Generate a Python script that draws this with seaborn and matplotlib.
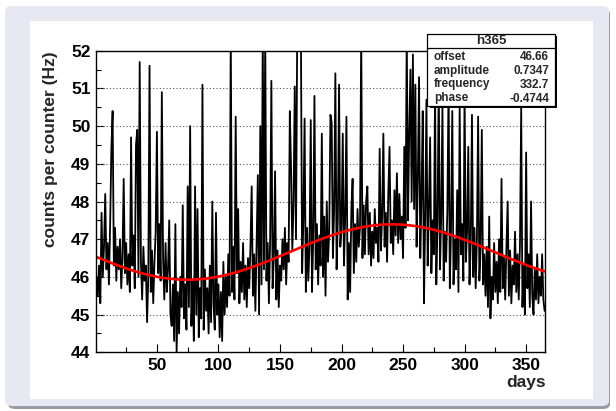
import numpy as np
import pandas as pd
import seaborn as sns
from matplotlib import pyplot as plt
from matplotlib.patches import FancyBboxPatch, Rectangle
from matplotlib.ticker import MultipleLocator

# daily rate (days 1..365); 52.5 = off the top of the frame
rate = [
    46.0, 45.5, 46.3, 45.3, 47.7, 46.0, 46.8, 48.2, 46.2, 46.9,
    45.8, 47.4, 49.4, 50.4, 46.3, 47.3, 45.9, 46.8, 46.2, 47.0,
    45.7, 46.5, 48.6, 46.1, 46.9, 45.8, 46.6, 45.6, 49.7, 46.3,
    47.1, 45.7, 49.5, 49.9, 46.0, 51.7, 46.4, 45.4, 46.8, 45.9,
    46.3, 44.8, 46.0, 51.6, 45.6, 46.7, 45.3, 46.4, 47.2, 49.85,
    46.1, 47.4, 45.9, 50.9, 46.5, 45.4, 46.9, 45.6, 46.2, 47.5,
    45.0, 44.7, 45.8, 44.3, 47.4, 44.0, 45.6, 44.5, 46.0, 45.2,
    47.9, 44.9, 45.8, 44.6, 48.4, 45.2, 50.0, 44.7, 45.9, 44.3,
    48.4, 45.0, 47.8, 44.4, 45.7, 44.9, 51.1, 44.6, 46.2, 45.1,
    45.7, 44.5, 46.3, 44.8, 48.0, 45.3, 44.6, 47.7, 45.0, 45.8,
    44.4, 45.6, 44.3, 46.4, 45.0, 46.0, 45.2, 46.6, 45.5, 52.5,
    45.6, 46.8, 45.4, 50.25, 46.1, 47.8, 45.3, 46.4, 45.6, 46.9,
    45.4, 46.3, 45.2, 46.5, 45.7, 46.8, 48.4, 45.5, 46.6, 45.1,
    46.9, 48.7, 45.0, 50.0, 45.8, 52.5, 46.2, 52.5, 45.9, 46.9,
    45.3, 47.0, 51.2, 45.7, 46.5, 48.8, 45.4, 46.7, 45.2, 46.3,
    45.9, 47.0, 46.2, 47.3, 45.8, 46.9, 46.4, 50.4, 48.9, 46.7,
    47.9, 51.05, 47.0, 52.5, 52.5, 52.5, 52.5, 46.1, 47.5, 50.2,
    45.6, 47.3, 45.9, 46.8, 50.16, 45.6, 47.0, 50.8, 46.2, 47.4,
    45.8, 47.1, 46.3, 49.8, 46.0, 47.6, 45.5, 48.0, 46.4, 47.2,
    50.3, 50.1, 46.5, 47.8, 51.4, 46.2, 47.5, 51.1, 46.8, 47.3,
    49.8, 46.3, 47.6, 50.25, 45.4, 46.9, 45.6, 47.8, 48.6, 46.1,
    47.4, 46.4, 47.8, 46.8, 47.3, 52.5, 46.5, 47.9, 46.6, 48.0,
    48.4, 46.6, 47.7, 46.3, 47.2, 46.5, 47.8, 46.9, 47.3, 46.4,
    49.4, 46.7, 47.6, 49.8, 46.8, 47.7, 46.4, 48.2, 49.45, 46.9,
    47.5, 46.6, 48.3, 47.1, 48.75, 46.9, 48.2, 47.0, 47.6, 46.5,
    49.45, 47.3, 52.5, 47.5, 49.8, 51.5, 48.0, 51.9, 47.8, 51.1,
    46.8, 48.6, 51.3, 46.5, 48.2, 50.4, 45.3, 47.6, 50.7, 46.3,
    47.8, 49.7, 46.1, 47.5, 46.6, 50.96, 45.8, 47.4, 51.2, 46.2,
    47.6, 50.5, 45.9, 47.2, 46.4, 47.8, 51.1, 45.7, 47.3, 50.4,
    45.8, 47.0, 46.2, 48.3, 45.6, 50.5, 46.6, 47.4, 45.9, 50.9,
    46.4, 47.2, 49.45, 45.8, 46.9, 50.3, 46.0, 47.3, 45.7, 47.0,
    50.25, 45.9, 46.8, 49.9, 45.8, 46.6, 45.5, 46.8, 45.2, 47.6,
    44.9, 46.0, 45.4, 46.9, 45.6, 46.4, 45.3, 47.0, 45.6, 48.6,
    45.7, 46.5, 45.4, 46.8, 48.0, 45.5, 46.7, 45.3, 46.3, 45.8,
    47.2, 45.6, 46.6, 45.4, 46.9, 50.5, 45.2, 46.3, 45.0, 49.3,
    45.7, 46.6, 45.2, 48.0, 45.5, 45.0, 46.2, 45.4, 46.6, 45.3,
    46.0, 45.5, 46.6, 45.4, 45.1,
]
days = np.arange(1, len(rate) + 1)

# fit result shown in the stats box
fit_name = "h365"
fit_params = ["offset", "amplitude", "frequency", "phase"]
fit_values = [46.66, 0.7347, 332.7, -0.4744]
fit_labels = ["46.66", "0.7347", "332.7", "-0.4744"]

y_ticks = [44, 45, 46, 47, 48, 49, 50, 51, 52]
x_ticks = [50, 100, 150, 200, 250, 300, 350]

sns.set_style("white")
plt.rcParams["font.family"] = ["Liberation Sans", "DejaVu Sans"]
plt.rcParams["font.weight"] = "bold"

fig = plt.figure(figsize=(6.16, 4.11), dpi=100)

# background panels
fig.patches.append(FancyBboxPatch((8 / 616, 1 - 409 / 411), 602 / 616, 400 / 411,
                                  boxstyle="round,pad=0,rounding_size=0.012",
                                  transform=fig.transFigure, facecolor="#9a9aa2",
                                  edgecolor="none", zorder=-3))
fig.patches.append(FancyBboxPatch((5 / 616, 1 - 406 / 411), 604 / 616, 400 / 411,
                                  boxstyle="round,pad=0,rounding_size=0.012",
                                  transform=fig.transFigure, facecolor="#e8e8f2",
                                  edgecolor="none", zorder=-2))
fig.patches.append(Rectangle((30 / 616, 1 - 399 / 411), 563 / 616, 378 / 411,
                             transform=fig.transFigure, facecolor="white",
                             edgecolor="none", zorder=-1))

ax = fig.add_axes([96 / 616, 1 - 352.3 / 411, 449.2 / 616, 301.6 / 411])
ax.patch.set_alpha(0)

df = pd.DataFrame({"day": days, "rate": rate})
sns.lineplot(data=df, x="day", y="rate", ax=ax, color="black", linewidth=1.3,
             estimator=None, zorder=3)

xf = np.linspace(0.5, 365.5, 400)
p0, p1, p2, p3 = fit_values
fit_df = pd.DataFrame({"day": xf, "fit": p0 + p1 * np.sin(2 * np.pi * (xf / p2 + p3))})
sns.lineplot(data=fit_df, x="day", y="fit", ax=ax, color="#ff0000", linewidth=1.9,
             estimator=None, zorder=4)

ax.set_xlim(0.5, 365.5)
ax.set_ylim(44, 52)
ax.set_yticks(y_ticks)
ax.set_xticks(x_ticks)
ax.yaxis.set_minor_locator(MultipleLocator(0.5))
ax.xaxis.set_minor_locator(MultipleLocator(25))
ax.tick_params(which="both", direction="in", left=True, bottom=True,
               right=False, top=False, labelsize=12.5, width=0.8, colors="black")
ax.tick_params(which="major", length=6, pad=4)
ax.tick_params(which="minor", length=3.5)
for lab in ax.get_xticklabels() + ax.get_yticklabels():
    lab.set_fontweight("bold")
for v in y_ticks[1:-1]:
    ax.axhline(v, color="#555555", linewidth=0.8, linestyle=(0, (1, 2)), zorder=1)
for s in ax.spines.values():
    s.set_visible(True)
    s.set_color("black")
    s.set_linewidth(1.0)
    s.set_zorder(5)
ax.set_xlabel("")
ax.set_ylabel("")

fig.text(51 / 616, 1 - 149 / 411, "counts per counter (Hz)", rotation=90,
         ha="center", va="center", fontsize=12.5, fontweight="bold")
fig.text(545.5 / 616, 1 - 382 / 411, "days", ha="right", va="center",
         fontsize=12.5, fontweight="bold")

# stats box
bx0, bx1, by0, by1 = 427.5, 555, 34, 106
fig.patches.append(Rectangle((bx0 / 616 + 2 / 616, 1 - (by1 + 2) / 411),
                             (bx1 - bx0) / 616, (by1 - by0) / 411,
                             transform=fig.transFigure, facecolor="black",
                             edgecolor="none", zorder=6))
fig.patches.append(Rectangle((bx0 / 616, 1 - by1 / 411), (bx1 - bx0) / 616,
                             (by1 - by0) / 411, transform=fig.transFigure,
                             facecolor="white", edgecolor="black", linewidth=0.9,
                             zorder=7))
fig.add_artist(plt.Line2D([bx0 / 616, bx1 / 616], [1 - 48 / 411, 1 - 48 / 411],
                          transform=fig.transFigure, color="black", linewidth=0.9,
                          zorder=8))
fig.text((bx0 + bx1) / 2 / 616, 1 - 41.5 / 411, fit_name, ha="center", va="center",
         fontsize=9.5, fontweight="bold", zorder=9)
for i, (name, val) in enumerate(zip(fit_params, fit_labels)):
    yy = 1 - (56.5 + i * 14) / 411
    fig.text(434 / 616, yy, name, ha="left", va="center", fontsize=8.5,
             fontweight="bold", zorder=9)
    fig.text(549 / 616, yy, val, ha="right", va="center", fontsize=8.5,
             fontweight="bold", zorder=9)

fig.savefig("out.png", dpi=100)
